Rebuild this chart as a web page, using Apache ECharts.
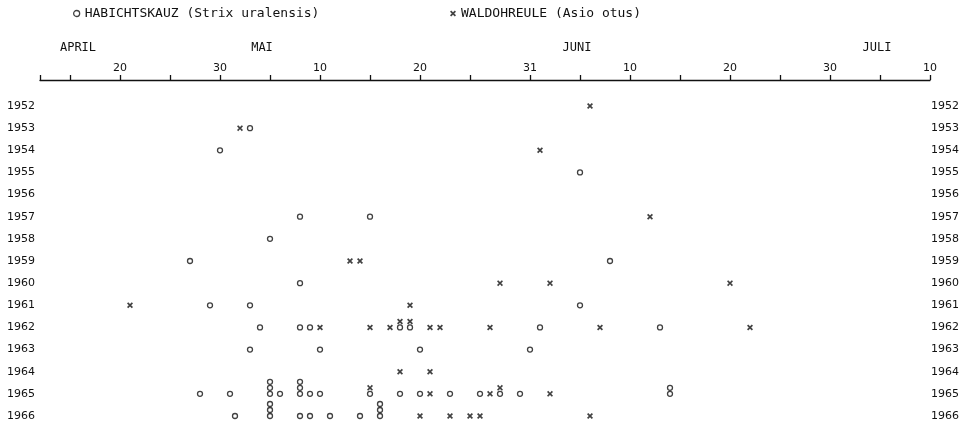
<!DOCTYPE html>
<html>
<head>
<meta charset="utf-8">
<script src="https://cdn.jsdelivr.net/npm/echarts@6/dist/echarts.min.js"></script>
<style>
  html, body { margin: 0; padding: 0; background: #fff; }
  #chart { width: 972px; height: 426px; }
</style>
</head>
<body>
<div id="chart"></div>
<script>
// Day numbers count from 31 March (1 = 1 April, 31 = 1 May, 62 = 1 June, 92 = 1 July)
const years = ['1952','1953','1954','1955','1956','1957','1958','1959','1960','1961','1962','1963','1964','1965','1966'];
const tickDays = [12, 15, 20, 25, 30, 35, 40, 45, 50, 55, 61, 66, 71, 76, 81, 86, 91, 96, 101];
const labelDays = [20, 30, 40, 50, 61, 71, 81, 91, 101];
const monthNames = ['APRIL', 'MAI', 'JUNI', 'JULI'];
const monthLabelAt = [15.8, 34.2, 65.7, 95.7];

const nameHabichtskauz = 'HABICHTSKAUZ (Strix uralensis)';
const nameWaldohreule = 'WALDOHREULE (Asio otus)';

// [year, day] – one entry per observation
const habichtskauz = [
  [1953, 33], [1954, 30], [1955, 66], [1957, 38], [1957, 45], [1958, 35],
  [1959, 27], [1959, 69], [1960, 38], [1961, 29], [1961, 33], [1961, 66],
  [1962, 34], [1962, 38], [1962, 39], [1962, 48], [1962, 49], [1962, 62], [1962, 74],
  [1963, 33], [1963, 40], [1963, 50], [1963, 61],
  [1965, 28], [1965, 31], [1965, 35], [1965, 35], [1965, 35], [1965, 36],
  [1965, 38], [1965, 38], [1965, 38], [1965, 39], [1965, 40], [1965, 45],
  [1965, 48], [1965, 50], [1965, 53], [1965, 56], [1965, 58], [1965, 60],
  [1965, 75], [1965, 75],
  [1966, 31.5], [1966, 35], [1966, 35], [1966, 35], [1966, 38], [1966, 39],
  [1966, 41], [1966, 44], [1966, 46], [1966, 46], [1966, 46]
];
const waldohreule = [
  [1952, 67], [1953, 32], [1954, 62], [1957, 73], [1959, 43], [1959, 44],
  [1960, 58], [1960, 63], [1960, 81], [1961, 21], [1961, 49],
  [1962, 40], [1962, 45], [1962, 47], [1962, 48], [1962, 49], [1962, 51],
  [1962, 52], [1962, 57], [1962, 68], [1962, 83],
  [1964, 48], [1964, 51],
  [1965, 45], [1965, 51], [1965, 57], [1965, 58], [1965, 63],
  [1966, 50], [1966, 53], [1966, 55], [1966, 56], [1966, 67]
];

function dayOfMonth(d) {
  if (d <= 30) return String(d);
  if (d <= 61) return String(d - 30);
  if (d <= 91) return String(d - 61);
  return String(d - 91);
}

const STACK_PX = 6;
const stackCount = {};
function toItems(list) {
  return list.map(function (p) {
    const key = p[0] + '_' + p[1];
    const level = stackCount[key] || 0;
    stackCount[key] = level + 1;
    return { value: [p[1], String(p[0])], symbolOffset: [0, -STACK_PX * level] };
  });
}
const circleItems = toItems(habichtskauz);
const crossItems = toItems(waldohreule);

const crossPath = 'path://M0,2L2,0L5,3L8,0L10,2L7,5L10,8L8,10L5,7L2,10L0,8L3,5Z';
const ink = '#111';
const font = 'DejaVu Sans';
const mono = 'DejaVu Sans Mono';

const chart = echarts.init(document.getElementById('chart'), null, { renderer: 'canvas' });
chart.setOption({
  animation: false,
  backgroundColor: '#fff',
  textStyle: { fontFamily: font, color: ink },
  grid: { left: 40, right: 42, top: 106, bottom: 10 },
  legend: [
    {
      left: 73, top: 7, padding: 0, itemWidth: 6, itemHeight: 6, selectedMode: false,
      textStyle: { fontFamily: mono, fontSize: 13, color: ink },
      data: [{ name: nameHabichtskauz, icon: 'circle',
               itemStyle: { color: '#fff', borderColor: ink, borderWidth: 1.3 } }]
    },
    {
      left: 450, top: 7, padding: 0, itemWidth: 6, itemHeight: 6, selectedMode: false,
      textStyle: { fontFamily: mono, fontSize: 13, color: ink },
      data: [{ name: nameWaldohreule, icon: crossPath, itemStyle: { color: ink } }]
    }
  ],
  xAxis: [
    {
      type: 'value', position: 'top', min: 12, max: 101, offset: 26,
      splitLine: { show: false },
      axisLine: { show: true, lineStyle: { color: ink, width: 1.3 } },
      axisTick: { show: true, customValues: tickDays, length: 5, lineStyle: { color: ink, width: 1.3 } },
      axisLabel: { customValues: labelDays, formatter: dayOfMonth, margin: 6,
                   color: ink, fontSize: 11, fontFamily: font }
    },
    {
      type: 'value', position: 'top', min: 12, max: 101, offset: 26,
      splitLine: { show: false }, axisLine: { show: false }, axisTick: { show: false },
      axisLabel: {
        customValues: monthLabelAt,
        formatter: function (v) { return monthNames[monthLabelAt.indexOf(v)] || ''; },
        margin: 26, color: ink, fontSize: 12, fontFamily: mono
      }
    }
  ],
  yAxis: [
    {
      type: 'category', data: years, inverse: true, boundaryGap: false,
      axisLine: { show: false }, axisTick: { show: false }, splitLine: { show: false },
      axisLabel: { margin: 5, fontSize: 11, color: ink, fontFamily: font }
    },
    {
      type: 'category', data: years, inverse: true, boundaryGap: false, position: 'right',
      axisLine: { show: false }, axisTick: { show: false }, splitLine: { show: false },
      axisLabel: { margin: 1, fontSize: 11, color: ink, fontFamily: font }
    }
  ],
  series: [
    {
      name: nameHabichtskauz, type: 'scatter', xAxisIndex: 0, yAxisIndex: 0,
      symbol: 'circle', symbolSize: 5,
      itemStyle: { color: '#fff', borderColor: ink, borderWidth: 1.3 },
      data: circleItems, z: 2
    },
    {
      name: nameWaldohreule, type: 'scatter', xAxisIndex: 0, yAxisIndex: 0,
      symbol: crossPath, symbolSize: 6,
      itemStyle: { color: ink },
      data: crossItems, z: 3
    }
  ]
});
</script>
</body>
</html>
